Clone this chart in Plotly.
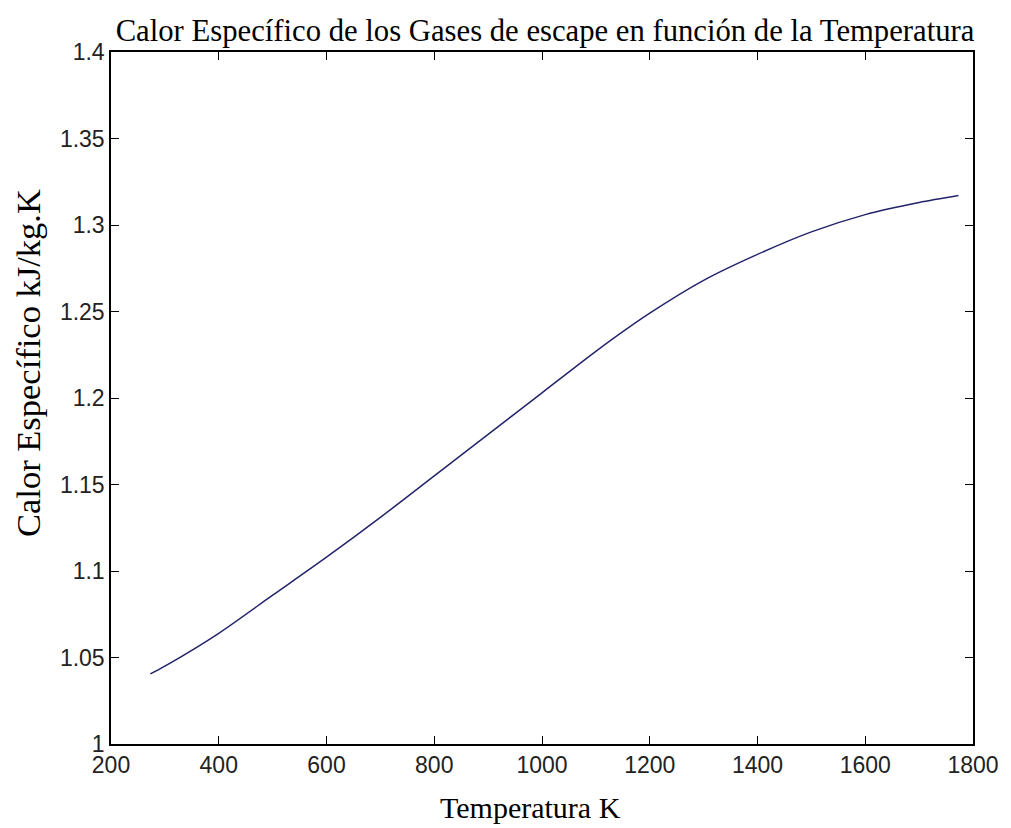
import plotly.graph_objects as go

temperatura_K = [273, 300, 400, 500, 600, 700, 800, 900, 1000, 1100, 1200,
                 1300, 1400, 1500, 1600, 1700, 1773]
calor_especifico = [1.0405, 1.045, 1.064, 1.086, 1.108, 1.131, 1.155, 1.179,
                    1.203, 1.227, 1.249, 1.268, 1.283, 1.296, 1.306, 1.313, 1.317]

x_ticks = [200, 400, 600, 800, 1000, 1200, 1400, 1600, 1800]
y_ticks = [1, 1.05, 1.1, 1.15, 1.2, 1.25, 1.3, 1.35, 1.4]

fig = go.Figure()
fig.add_trace(go.Scatter(
    x=temperatura_K, y=calor_especifico, mode="lines",
    line=dict(color="#23236b", width=1.5, shape="spline", smoothing=0.8),
    showlegend=False,
))

axis_common = dict(
    showgrid=False, zeroline=False, showline=True, linecolor="black",
    linewidth=1.5, mirror="ticks", ticks="inside", ticklen=8,
    tickwidth=1.2, tickcolor="black",
    tickfont=dict(family="Liberation Sans, Arial, sans-serif", size=23, color="#222"),
)

serif = "Liberation Serif, Times New Roman, serif"

fig.update_layout(
    width=1011, height=828,
    margin=dict(l=111, r=33, t=52, b=84),
    paper_bgcolor="white", plot_bgcolor="white",
    title=dict(
        text="Calor Específico de los Gases de escape en función de la Temperatura",
        font=dict(family=serif, size=30.7, color="black"),
        x=0.5035, xanchor="center", y=0.963, yanchor="middle", xref="paper",
    ),
    xaxis=dict(range=[200, 1800], tickvals=x_ticks, **axis_common),
    yaxis=dict(range=[1, 1.4], tickvals=y_ticks, **axis_common),
    annotations=[
        dict(text="Temperatura K", xref="paper", yref="paper",
             x=0.4862, y=-0.0915, xanchor="center", yanchor="middle",
             showarrow=False, font=dict(family=serif, size=30, color="black")),
        dict(text="Calor Específico kJ/kg.K", xref="paper", yref="paper",
             x=-0.0957, y=0.5499, xanchor="center", yanchor="middle",
             textangle=-90, showarrow=False,
             font=dict(family=serif, size=34.5, color="black")),
    ],
)

fig.write_html("out.html")
